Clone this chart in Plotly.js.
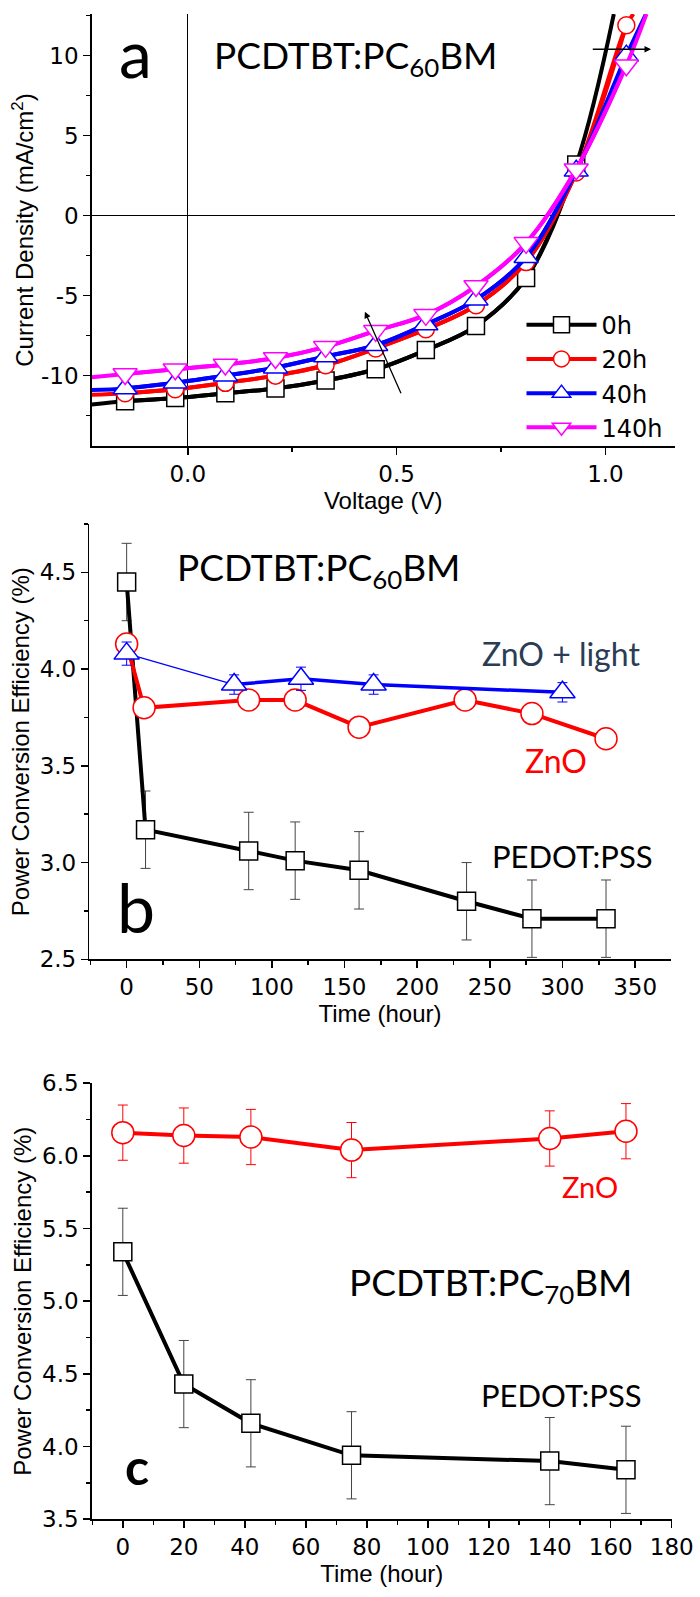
<!DOCTYPE html>
<html><head><meta charset="utf-8">
<script src="https://cdn.plot.ly/plotly-3.0.1.min.js"></script>
<style>html,body{margin:0;padding:0;background:#fff}#chart{width:700px;height:1597px}</style>
</head><body><div id="chart"></div>
<script>
// ---------- Panel a : J-V curves (PCDTBT:PC60BM) ----------
const seriesNamesA = ['0h', '20h', '40h', '140h'];
const v0h   = [-0.23, -0.15, -0.03, 0.09, 0.21, 0.33, 0.45, 0.57, 0.69, 0.81, 0.93, 1.02];
const j0h   = [-11.8, -11.6, -11.4, -11.1, -10.8, -10.3, -9.6, -8.4, -6.9, -3.9, 3.2, 12.6];
const v20h  = [-0.23, -0.15, -0.03, 0.09, 0.21, 0.33, 0.45, 0.57, 0.69, 0.81, 0.93, 1.05, 1.067];
const j20h  = [-11.2, -11.1, -10.85, -10.45, -10.0, -9.35, -8.3, -7.1, -5.6, -2.9, 2.7, 11.9, 12.6];
const v40h  = [-0.23, -0.15, -0.03, 0.09, 0.21, 0.33, 0.45, 0.57, 0.69, 0.81, 0.93, 1.05, 1.097];
const j40h  = [-10.9, -10.8, -10.45, -10.0, -9.5, -8.8, -8.1, -6.8, -5.25, -2.6, 2.8, 10.0, 12.6];
const v140h = [-0.23, -0.15, -0.03, 0.09, 0.21, 0.33, 0.45, 0.57, 0.69, 0.81, 0.93, 1.05, 1.098];
const j140h = [-10.1, -9.9, -9.6, -9.3, -8.9, -8.2, -7.2, -6.2, -4.4, -1.7, 2.9, 9.4, 12.6];
const yTickValsA = [-10, -5, 0, 5, 10];
const yTickTextA = ['-10', '-5', '0', '5', '10'];

// ---------- Panel b : PCE vs time (PC60BM) ----------
const tPedotB = [0, 13, 84, 116, 160, 234, 279, 330];
const pPedotB = [4.45, 3.17, 3.06, 3.01, 2.96, 2.80, 2.71, 2.71];
const ePedotB = [0.2, 0.2, 0.2, 0.2, 0.2, 0.2, 0.2, 0.2];
const tZnoB   = [0, 12, 84, 116, 160, 233, 279, 330];
const pZnoB   = [4.13, 3.80, 3.84, 3.84, 3.70, 3.84, 3.77, 3.64];
const eZnoB   = [0.04, 0.05, 0.05, 0.05, 0.05, 0.05, 0.05, 0.04];
const tLightB = [0, 74, 120, 170, 300];
const pLightB = [4.08, 3.92, 3.95, 3.92, 3.88];
const eLightB = [0.06, 0.05, 0.06, 0.05, 0.05];

// ---------- Panel c : PCE vs time (PC70BM) ----------
const tPedotC = [0, 20, 42, 75, 140, 165];
const pPedotC = [5.34, 4.43, 4.16, 3.94, 3.90, 3.84];
const ePedotC = [0.3, 0.3, 0.3, 0.3, 0.3, 0.3];
const tZnoC   = [0, 20, 42, 75, 140, 165];
const pZnoC   = [6.16, 6.14, 6.13, 6.04, 6.12, 6.17];
const eZnoC   = [0.19, 0.19, 0.19, 0.19, 0.19, 0.19];

// ---------- helpers ----------
const SANS = 'DejaVu Sans, Liberation Sans, Arial, sans-serif';
const ARIAL = 'Liberation Sans, Arial, sans-serif';
const CAL = 'Lato, Calibri, sans-serif';
const tickFont = {family: SANS, size: 23, color: '#000'};
const titleFont = {family: ARIAL, size: 24, color: '#000'};

const jvColors = ['#000000', '#ff0000', '#0000ff', '#ff00ff'];
const jvSymbols = ['square', 'circle', 'triangle-up', 'triangle-down'];
const jvSizes = [17, 17, 21, 21];
const jvX = [v0h, v20h, v40h, v140h];
const jvY = [j0h, j20h, j40h, j140h];

const traces = [];
for (let k = 0; k < 4; k++) {
  // full measured curve (reaches the frame edges)
  traces.push({
    type: 'scatter', mode: 'lines', x: jvX[k], y: jvY[k], xaxis: 'x', yaxis: 'y',
    line: {color: jvColors[k], width: 4, shape: 'spline'}, showlegend: false, legendgroup: seriesNamesA[k]
  });
  // marked points
  traces.push({
    type: 'scatter', mode: 'lines+markers', name: seriesNamesA[k],
    x: jvX[k].slice(1, -1), y: jvY[k].slice(1, -1), xaxis: 'x', yaxis: 'y',
    line: {color: jvColors[k], width: 4, shape: 'spline'},
    marker: {symbol: jvSymbols[k], size: jvSizes[k], color: '#ffffff', line: {color: jvColors[k], width: 1.5}},
    showlegend: true, legendgroup: seriesNamesA[k]
  });
}

function errTrace(x, y, e, color, ecolor, symbol, size, lw, xa, ya, mode) {
  return {
    type: 'scatter', mode: mode || 'lines+markers', x: x, y: y, xaxis: xa, yaxis: ya,
    line: {color: color, width: lw},
    marker: {symbol: symbol, size: size, color: '#ffffff', line: {color: color, width: 1.5}},
    error_y: {type: 'data', array: e, visible: true, color: ecolor, thickness: 1, width: 5},
    showlegend: false, cliponaxis: false
  };
}

// panel b
traces.push(errTrace(tPedotB, pPedotB, ePedotB, '#000000', '#444444', 'square', 18, 4, 'x2', 'y2'));
traces.push(errTrace(tZnoB, pZnoB, eZnoB, '#ff0000', '#ff0000', 'circle', 22, 4, 'x2', 'y2'));
traces.push({type: 'scatter', mode: 'lines', x: tLightB.slice(0, 2), y: pLightB.slice(0, 2), xaxis: 'x2', yaxis: 'y2',
             line: {color: '#0000ff', width: 1.2}, showlegend: false});
traces.push({type: 'scatter', mode: 'lines', x: tLightB.slice(1), y: pLightB.slice(1), xaxis: 'x2', yaxis: 'y2',
             line: {color: '#0000ff', width: 3.5}, showlegend: false});
traces.push(errTrace(tLightB, pLightB, eLightB, '#0000ff', '#0000ff', 'triangle-up', 22, 0, 'x2', 'y2', 'markers'));

// panel c
traces.push(errTrace(tPedotC, pPedotC, ePedotC, '#000000', '#444444', 'square', 18, 4, 'x3', 'y3'));
traces.push(errTrace(tZnoC, pZnoC, eZnoC, '#ff0000', '#ff0000', 'circle', 22, 4, 'x3', 'y3'));

function axis(extra) {
  return Object.assign({showline: true, linecolor: '#000', linewidth: 1.5, ticks: 'outside', ticklen: 7,
    tickwidth: 1.5, tickcolor: '#000', showgrid: false, zeroline: false, tickfont: tickFont, fixedrange: true}, extra);
}
function overlay(extra) {
  return Object.assign({showline: true, linecolor: '#000', linewidth: 1.5, ticks: 'inside', ticklen: 7,
    tickwidth: 1.5, tickcolor: '#000', showticklabels: false, showgrid: false, zeroline: false, fixedrange: true}, extra);
}

const rxA = [-0.23, 1.166], ryA = [-14.4, 12.6];
const rxB = [-25.7, 374.5], ryB = [2.5, 4.75];
const rxC = [-10.2, 180], ryC = [3.5, 6.5];

const layout = {
  width: 700, height: 1597,
  margin: {l: 0, r: 0, t: 0, b: 0},
  paper_bgcolor: '#fff', plot_bgcolor: 'rgba(0,0,0,0)',
  font: {family: SANS, color: '#000'},
  showlegend: true,
  legend: {x: 0.745, y: 0.8105, xanchor: 'left', yanchor: 'top', bgcolor: 'rgba(0,0,0,0)',
           font: {family: SANS, size: 24, color: '#000'}, itemwidth: 70, tracegroupgap: 0},
  // panel a
  xaxis: axis({domain: [0.131, 0.964], anchor: 'y', range: rxA, tick0: 0, dtick: 0.5, tickformat: '.1f',
    minor: {ticks: 'outside', dtick: 0.25, tick0: 0, ticklen: 4, tickwidth: 1.5, tickcolor: '#000'},
    zeroline: true, zerolinecolor: '#000', zerolinewidth: 1.3,
    title: {text: 'Voltage (V)', font: titleFont, standoff: 1}}),
  yaxis: axis({domain: [0.7207, 0.9912], anchor: 'x', range: ryA, tickmode: 'array', tickvals: yTickValsA, ticktext: yTickTextA,
    minor: {ticks: 'outside', tickmode: 'linear', dtick: 2.5, tick0: 0, ticklen: 4, tickwidth: 1.5, tickcolor: '#000'},
    zeroline: true, zerolinecolor: '#000', zerolinewidth: 1.3,
    title: {text: 'Current Density (mA/cm<sup>2</sup>)', font: titleFont, standoff: 0}}),
  xaxis4: overlay({overlaying: 'x', anchor: 'y', side: 'top', range: rxA, tick0: 0, dtick: 0.5,
    minor: {ticks: 'inside', dtick: 0.25, tick0: 0, ticklen: 4, tickwidth: 1.5, tickcolor: '#000'}}),
  yaxis4: overlay({overlaying: 'y', anchor: 'x', side: 'right', range: ryA, tick0: 0, dtick: 5,
    minor: {ticks: 'inside', dtick: 2.5, tick0: 0, ticklen: 4, tickwidth: 1.5, tickcolor: '#000'}}),
  // panel b
  xaxis2: axis({domain: [0.1276, 0.9581], anchor: 'y2', range: rxB, tick0: 0, dtick: 50,
    minor: {ticks: 'outside', dtick: 25, tick0: 0, ticklen: 4, tickwidth: 1.5, tickcolor: '#000'},
    title: {text: 'Time (hour)', font: titleFont, standoff: 3}}),
  yaxis2: axis({domain: [0.3993, 0.6719], anchor: 'x2', range: ryB, tick0: 2.5, dtick: 0.5, tickformat: '.1f',
    minor: {ticks: 'outside', dtick: 0.25, tick0: 2.5, ticklen: 4, tickwidth: 1.5, tickcolor: '#000'},
    title: {text: 'Power Conversion Efficiency (%)', font: titleFont, standoff: 3}}),
  xaxis5: overlay({overlaying: 'x2', anchor: 'y2', side: 'top', range: rxB, tick0: 0, dtick: 50,
    minor: {ticks: 'inside', dtick: 25, tick0: 0, ticklen: 4, tickwidth: 1.5, tickcolor: '#000'}}),
  yaxis5: overlay({overlaying: 'y2', anchor: 'x2', side: 'right', range: ryB, tick0: 2.5, dtick: 0.5,
    minor: {ticks: 'inside', dtick: 0.25, tick0: 2.5, ticklen: 4, tickwidth: 1.5, tickcolor: '#000'}}),
  // panel c
  xaxis3: axis({domain: [0.131, 0.9596], anchor: 'y3', range: rxC, tick0: 0, dtick: 20,
    minor: {ticks: 'outside', dtick: 10, tick0: 0, ticklen: 4, tickwidth: 1.5, tickcolor: '#000'},
    title: {text: 'Time (hour)', font: titleFont, standoff: 3}}),
  yaxis3: axis({domain: [0.0487, 0.3217], anchor: 'x3', range: ryC, tick0: 3.5, dtick: 0.5, tickformat: '.1f',
    minor: {ticks: 'outside', dtick: 0.25, tick0: 3.5, ticklen: 4, tickwidth: 1.5, tickcolor: '#000'},
    title: {text: 'Power Conversion Efficiency (%)', font: titleFont, standoff: 3}}),
  xaxis6: overlay({overlaying: 'x3', anchor: 'y3', side: 'top', range: rxC, tick0: 0, dtick: 20,
    minor: {ticks: 'inside', dtick: 10, tick0: 0, ticklen: 4, tickwidth: 1.5, tickcolor: '#000'}}),
  yaxis6: overlay({overlaying: 'y3', anchor: 'x3', side: 'right', range: ryC, tick0: 3.5, dtick: 0.5,
    minor: {ticks: 'inside', dtick: 0.25, tick0: 3.5, ticklen: 4, tickwidth: 1.5, tickcolor: '#000'}}),
  annotations: [
    // panel a
    {xref: 'paper', yref: 'paper', x: 0.1929, y: 0.9671, text: 'a', showarrow: false, xanchor: 'center', yanchor: 'middle',
     font: {family: CAL, size: 66, color: '#000'}},
    {xref: 'paper', yref: 'paper', x: 0.3029, y: 0.9643, text: 'PCDTBT:PC<sub>60</sub>BM', showarrow: false, xanchor: 'left', yanchor: 'middle',
     font: {family: CAL, size: 37, color: '#000'}},
    {xref: 'x', yref: 'y', axref: 'x', ayref: 'y', x: 0.424, y: -6.0, ax: 0.512, ay: -11.2, text: '', showarrow: true,
     arrowhead: 2, arrowsize: 1, arrowwidth: 1.3, arrowcolor: '#000'},
    {xref: 'x', yref: 'y', axref: 'x', ayref: 'y', x: 1.109, y: 10.4, ax: 0.966, ay: 10.4, text: '', showarrow: true,
     arrowhead: 2, arrowsize: 1, arrowwidth: 1.3, arrowcolor: '#000'},
    // panel b
    {xref: 'paper', yref: 'paper', x: 0.25, y: 0.6437, text: 'PCDTBT:PC<sub>60</sub>BM', showarrow: false, xanchor: 'left', yanchor: 'middle',
     font: {family: CAL, size: 37, color: '#000'}},
    {xref: 'paper', yref: 'paper', x: 0.6857, y: 0.5908, text: 'ZnO + light', showarrow: false, xanchor: 'left', yanchor: 'middle',
     font: {family: CAL, size: 32, color: '#2b3d55'}},
    {xref: 'paper', yref: 'paper', x: 0.7471, y: 0.5241, text: 'ZnO', showarrow: false, xanchor: 'left', yanchor: 'middle',
     font: {family: CAL, size: 32, color: '#ff0000'}},
    {xref: 'paper', yref: 'paper', x: 0.70, y: 0.464, text: 'PEDOT:PSS', showarrow: false, xanchor: 'left', yanchor: 'middle',
     font: {family: CAL, size: 31, color: '#000'}},
    {xref: 'paper', yref: 'paper', x: 0.1643, y: 0.4321, text: 'b', showarrow: false, xanchor: 'left', yanchor: 'middle',
     font: {family: CAL, size: 68, color: '#000'}},
    // panel c
    {xref: 'paper', yref: 'paper', x: 0.80, y: 0.2569, text: 'ZnO', showarrow: false, xanchor: 'left', yanchor: 'middle',
     font: {family: CAL, size: 29, color: '#ff0000'}},
    {xref: 'paper', yref: 'paper', x: 0.4953, y: 0.1954, text: 'PCDTBT:PC<sub>70</sub>BM', showarrow: false, xanchor: 'left', yanchor: 'middle',
     font: {family: CAL, size: 37, color: '#000'}},
    {xref: 'paper', yref: 'paper', x: 0.6839, y: 0.1265, text: 'PEDOT:PSS', showarrow: false, xanchor: 'left', yanchor: 'middle',
     font: {family: CAL, size: 31, color: '#000'}},
    {xref: 'paper', yref: 'paper', x: 0.1757, y: 0.082, text: '<b>c</b>', showarrow: false, xanchor: 'left', yanchor: 'middle',
     font: {family: CAL, size: 50, color: '#000'}}
  ]
};

Plotly.newPlot('chart', traces, layout, {staticPlot: true, displayModeBar: false});
</script>
</body></html>
